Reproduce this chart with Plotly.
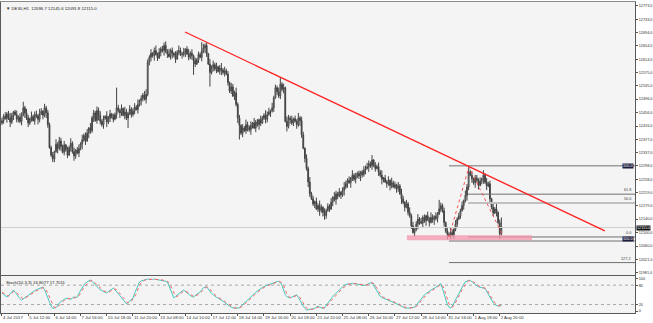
import plotly.graph_objects as go

# ---------------- data ----------------
title_text = "DE30,H1  12096.7 12145.6 12091.8 12115.0"
stoch_text = "Stoch(10,3,3) 16.8077 17.7011"

y_tick_labels = ["12773.0", "12733.0", "12694.0", "12654.0", "12614.0", "12575.0", "12535.0",
                 "12496.0", "12456.0", "12416.0", "12377.0", "12337.0", "12298.0", "12258.0",
                 "12219.0", "12179.0", "12140.0", "12100.0", "12060.0", "12021.0", "11981.0"]

x_tick_labels = ["4 Jul 2017", "5 Jul 12:00", "6 Jul 14:00", "7 Jul 16:00", "10 Jul 18:00",
                 "11 Jul 20:00", "13 Jul 08:00", "14 Jul 10:00", "17 Jul 12:00", "18 Jul 14:00",
                 "19 Jul 16:00", "20 Jul 18:00", "21 Jul 20:00", "25 Jul 08:00", "26 Jul 10:00",
                 "27 Jul 12:00", "28 Jul 14:00", "31 Jul 16:00", "1 Aug 18:00", "2 Aug 20:00"]
x_tick_bars = [0, 16, 32, 48, 64, 80, 96, 112, 128, 144, 160, 176, 192, 208, 224, 240, 256,
               272, 288, 304]

first_open = 12425
closes = (
    [12432, 12445, 12438, 12452, 12440, 12428, 12446, 12458, 12450, 12436, 12442, 12430, 12448, 12470,
     12455, 12440, 12425, 12438, 12444, 12432, 12450, 12446, 12436, 12452, 12460, 12448, 12470, 12455]
    + [12420, 12352, 12330, 12318, 12340, 12362, 12350, 12372, 12355, 12338, 12360, 12346, 12330, 12352,
       12365, 12340, 12328, 12345, 12336, 12350, 12362]
    + [12375, 12388, 12372, 12395, 12410, 12402]
    + [12440, 12455, 12432, 12462, 12448, 12430, 12420, 12438, 12445, 12428, 12440, 12452, 12444, 12436]
    + [12450, 12470, 12462, 12455, 12468, 12448, 12458, 12440, 12452, 12466, 12450, 12460, 12472, 12465,
       12480, 12492]
    + [12498, 12508, 12495, 12510]
    + [12605, 12620, 12632, 12625, 12640, 12628, 12618, 12635, 12645, 12640, 12655, 12638, 12630, 12622,
       12640, 12632, 12626, 12615, 12635, 12640, 12630, 12628, 12636, 12644, 12630, 12620, 12632, 12625,
       12610, 12600, 12612, 12628, 12620, 12638, 12648, 12655, 12630]
    + [12600, 12575, 12590, 12598, 12585, 12592, 12578, 12588, 12582, 12575, 12580, 12570]
    + [12545, 12520, 12532, 12505, 12515, 12480]
    + [12440, 12418, 12395, 12410, 12402, 12420, 12412, 12405, 12418, 12425]
    + [12410, 12428, 12420, 12435, 12425, 12440, 12448, 12436, 12450, 12458, 12462, 12470]
    + [12500, 12530, 12518, 12505, 12540, 12525, 12530]
    + [12430, 12415, 12440, 12435, 12425, 12438, 12430, 12420, 12440, 12432]
    + [12390, 12350, 12320, 12290]
    + [12250, 12215, 12200, 12185, 12192, 12170, 12180, 12165, 12175, 12160, 12150, 12165, 12178, 12170]
    + [12190, 12205, 12198, 12215, 12208, 12220, 12212, 12225, 12235]
    + [12245, 12255, 12248, 12262, 12270, 12258, 12265, 12275, 12268, 12280, 12272, 12285, 12290]
    + [12295, 12305, 12298, 12315, 12300, 12290, 12296, 12280]
    + [12270, 12258, 12262, 12250, 12245, 12255, 12240, 12248, 12235, 12242, 12230, 12238]
    + [12215, 12200, 12190, 12175, 12185, 12160, 12150]
    + [12120, 12100, 12110]
    + [12125, 12140, 12132, 12128, 12145, 12135, 12150, 12140, 12130, 12145, 12138, 12148, 12142, 12155,
       12170, 12180, 12165]
    + [12130, 12105, 12095, 12090, 12100, 12094]
    + [12110, 12125, 12140, 12150, 12165, 12180, 12195, 12210, 12235]
    + [12280, 12270, 12260]
    + [12248, 12262, 12255, 12240, 12252, 12260, 12270, 12250, 12238, 12245]
    + [12200, 12175, 12158]
    + [12170, 12160, 12130, 12096.7, 12115.0]
)

# wick lengths per bar, base-36 digits, 3 points per unit
upper_wicks = ("3242353124" "2436243152" "3425314232" "2315243241" "3252413425" "2341523243"
               "4231524132" "k324153242" "3425132453" "2413524233" "4252314253" "2413524132"
               "3294231524" "2413524231" "4325231425" "3241523142" "2534152324" "7241532413"
               "2524314252" "3142531423" "2415324135" "3241524231" "2434325132" "4251324152"
               "3142531425" "2413524231" "4253142932" "3142531423" "2415352413" "3241524231"
               "42513a")
lower_wicks = ("2314252413" "3241524231" "4253142531" "2331524132" "3142531425" "2415324135"
               "3241524231" "4253142a13" "2314253142" "3425131425" "2413524132" "4251324e31"
               "3142531e24" "2413524132" "31425e2413" "4253142531" "2431524132" "3241524231"
               "4253142531" "2413524431" "3142531425" "2415324135" "3241524231" "4253142531"
               "2431524132" "3142531425" "2413524132" "4251324231" "3142531425" "2413524132"
               "314252")

stoch_k = (
    [56, 52, 47, 43] + [48, 55, 60, 65] + [58, 50, 44, 38, 34] + [38, 42, 46, 50, 53, 56]
    + [60, 63, 66, 68, 70, 72, 74] + [66, 55, 42, 28, 16, 8] + [9, 12, 15, 25] + [30, 33, 36, 38, 40]
    + [38, 36, 40, 44, 42, 43] + [55, 65, 73, 80, 87] + [90, 94, 96] + [92, 86, 80, 74]
    + [70, 66, 62, 60, 58, 56] + [60, 64, 68, 71] + [66, 60, 55, 50] + [42, 35, 28, 22]
    + [26, 31, 36, 40] + [55, 68, 80, 90] + [93, 95, 97, 98, 99, 98, 97, 98, 99, 98, 99]
    + [97, 95, 96, 94, 92, 90] + [78, 64, 52, 40] + [45, 50, 55, 58, 62, 65] + [60, 56, 52, 48, 45, 43]
    + [48, 52, 56, 59] + [66, 72, 74, 75] + [68, 60, 54, 50, 45] + [42, 40, 37, 35] + [30, 26, 22, 18, 15]
    + [12, 10, 8, 9, 10, 10] + [15, 20, 26, 30, 35, 40] + [44, 48, 53, 58, 62, 66, 70]
    + [73, 76, 78, 80, 83, 85] + [87, 89, 90, 91, 92] + [88, 80, 65, 50] + [45, 42, 40] + [43, 46, 48, 50]
    + [42, 32, 22, 15, 8, 3] + [4, 5, 6, 7, 8] + [12, 15, 12, 9, 8, 10] + [18, 25, 32, 38, 45]
    + [50, 55, 60, 66, 70, 75, 80] + [82, 84, 83, 85, 86, 84, 85] + [83, 82, 80, 81, 79, 80]
    + [83, 85, 87, 88] + [80, 70, 60, 52, 45] + [42, 40, 38, 35, 32, 30] + [28, 26, 24, 22, 20]
    + [17, 14, 12, 10] + [9, 8, 9, 10, 11, 12] + [18, 25, 32, 38, 44, 50] + [54, 58, 62, 65, 68, 70]
    + [74, 78, 82, 85] + [70, 52, 35, 20, 12, 9] + [15, 25, 35, 45] + [56, 66, 75, 83, 90] + [93, 95, 95]
    + [90, 86, 82, 78, 75] + [73, 72, 71, 70] + [60, 50, 40, 30] + [25, 20, 17, 15, 16, 16.8077]
)
stoch_d = (
    [58, 55, 51, 47] + [46, 50, 54, 60] + [61, 56, 50, 44, 39] + [37, 39, 42, 46, 50, 53]
    + [56, 60, 63, 66, 68, 70, 72] + [71, 65, 54, 42, 29, 17] + [11, 10, 12, 17] + [23, 29, 33, 36, 38]
    + [39, 38, 38, 40, 42, 43] + [47, 54, 64, 73, 80] + [86, 90, 93] + [94, 91, 86, 80]
    + [75, 70, 66, 63, 60, 58] + [58, 60, 64, 68] + [68, 66, 60, 55] + [49, 42, 35, 28]
    + [25, 26, 31, 36] + [44, 54, 68, 80] + [88, 93, 95, 97, 98, 99, 98, 98, 98, 99, 99]
    + [98, 97, 96, 95, 94, 92] + [87, 77, 65, 52] + [46, 45, 50, 54, 58, 62] + [62, 60, 56, 52, 48, 45]
    + [45, 48, 52, 56] + [60, 66, 71, 74] + [72, 68, 61, 55, 50] + [46, 42, 40, 37] + [34, 30, 26, 22, 18]
    + [15, 12, 10, 9, 9, 10] + [12, 15, 20, 25, 30, 35] + [40, 44, 48, 53, 58, 62, 66]
    + [70, 73, 76, 78, 80, 83] + [85, 87, 89, 90, 91] + [90, 87, 78, 65] + [53, 46, 42] + [42, 43, 46, 48]
    + [47, 41, 32, 23, 15, 9] + [5, 4, 5, 6, 7] + [9, 12, 13, 12, 10, 9] + [12, 17, 25, 32, 38]
    + [44, 50, 55, 60, 65, 70, 75] + [79, 82, 83, 84, 85, 85, 85] + [84, 83, 82, 81, 80, 80]
    + [81, 83, 85, 87] + [85, 79, 70, 61, 52] + [46, 42, 40, 38, 35, 32] + [30, 28, 26, 24, 22]
    + [20, 17, 14, 12] + [10, 9, 9, 9, 10, 11] + [14, 18, 25, 32, 38, 44] + [49, 54, 58, 62, 65, 68]
    + [71, 74, 78, 82] + [79, 69, 52, 36, 22, 14] + [12, 16, 25, 35] + [45, 56, 66, 75, 83] + [89, 93, 94]
    + [93, 90, 86, 82, 78] + [75, 73, 72, 71] + [67, 60, 50, 40] + [32, 25, 21, 17, 16, 17.7011]
)

# drawn objects (bar index, price)
trend_x = [111.8, 368.2]
trend_y = [12695, 12105]
zigzag_x = [273, 285.2, 306]
zigzag_y = [12087, 12295, 12090]
fib_a_start = 273
fib_a_levels = [12298, 12075, 12011]
fib_b_start = 284.6
fib_b_levels = [12214, 12087]
fib_mid_level = 12188
level_labels = [("61.8", 12214), ("50.0", 12188), ("0.0", 12087), ("127.2", 12011)]
box_labels = [("100.0", 12298), ("100.0", 12080)]
zone_x = [247.3, 323.7]
zone_y = [12077, 12092]
last_price = 12115.0
stoch_levels = [80, 20]

# ---------------- build ----------------
n = len(closes)
bars = list(range(n))
opens = [first_open] + closes[:-1]
highs = [max(o, c) + int(upper_wicks[i], 36) * 3 for i, (o, c) in enumerate(zip(opens, closes))]
lows = [min(o, c) - int(lower_wicks[i], 36) * 3 for i, (o, c) in enumerate(zip(opens, closes))]

X_MIN, X_MAX = -0.6, 386.6
FONT = "Liberation Sans"
FS = 4.3
FSY = 3.8

fig = go.Figure()
fig.add_trace(go.Candlestick(
    x=bars, open=opens, high=highs, low=lows, close=closes,
    increasing=dict(line=dict(color="#444444", width=1), fillcolor="#ffffff"),
    decreasing=dict(line=dict(color="#444444", width=1), fillcolor="#2a2a2a"),
    whiskerwidth=0, xaxis="x", yaxis="y", showlegend=False, hoverinfo="skip"))

# current price line
fig.add_trace(go.Scatter(x=[X_MIN, X_MAX], y=[last_price, last_price], mode="lines",
                         line=dict(color="#cfcfcf", width=1), xaxis="x", yaxis="y",
                         showlegend=False, hoverinfo="skip"))
# fib lines
for lv in fib_a_levels:
    fig.add_trace(go.Scatter(x=[fib_a_start, X_MAX], y=[lv, lv], mode="lines",
                             line=dict(color="#707070", width=1), xaxis="x", yaxis="y",
                             showlegend=False, hoverinfo="skip"))
for lv in fib_b_levels:
    fig.add_trace(go.Scatter(x=[fib_b_start, X_MAX], y=[lv, lv], mode="lines",
                             line=dict(color="#707070", width=1), xaxis="x", yaxis="y",
                             showlegend=False, hoverinfo="skip"))
fig.add_trace(go.Scatter(x=[fib_b_start, X_MAX], y=[fib_mid_level, fib_mid_level], mode="lines",
                         line=dict(color="#c0c0c0", width=2), xaxis="x", yaxis="y",
                         showlegend=False, hoverinfo="skip"))
# pink zone
fig.add_trace(go.Scatter(x=[zone_x[0], zone_x[1], zone_x[1], zone_x[0], zone_x[0]],
                         y=[zone_y[0], zone_y[0], zone_y[1], zone_y[1], zone_y[0]],
                         mode="lines", fill="toself", fillcolor="rgba(244,150,170,0.75)",
                         line=dict(width=0), xaxis="x", yaxis="y", showlegend=False, hoverinfo="skip"))
# trendline
fig.add_trace(go.Scatter(x=trend_x, y=trend_y, mode="lines", line=dict(color="#ff2020", width=1.3),
                         xaxis="x", yaxis="y", showlegend=False, hoverinfo="skip"))
# zigzag
fig.add_trace(go.Scatter(x=zigzag_x, y=zigzag_y, mode="lines",
                         line=dict(color="#ff5050", width=1, dash="dot"),
                         xaxis="x", yaxis="y", showlegend=False, hoverinfo="skip"))

# stochastic
for lv in stoch_levels:
    fig.add_trace(go.Scatter(x=[X_MIN, X_MAX], y=[lv, lv], mode="lines",
                             line=dict(color="#a8a8a8", width=1, dash="dot"),
                             xaxis="x2", yaxis="y2", showlegend=False, hoverinfo="skip"))
fig.add_trace(go.Scatter(x=list(range(len(stoch_k))), y=stoch_k, mode="lines",
                         line=dict(color="#48c8c0", width=1), xaxis="x2", yaxis="y2",
                         showlegend=False, hoverinfo="skip"))
fig.add_trace(go.Scatter(x=list(range(len(stoch_d))), y=stoch_d, mode="lines",
                         line=dict(color="#ff6060", width=1, dash="dot"), xaxis="x2", yaxis="y2",
                         showlegend=False, hoverinfo="skip"))

tick_font = dict(family=FONT, size=FS, color="#303030")
ytick_font = dict(family=FONT, size=FSY, color="#303030")
annotations = [
    dict(text="▼ " + title_text, xref="paper", yref="paper", x=0.004, y=0.995, xanchor="left",
         yanchor="top", showarrow=False, font=dict(family=FONT, size=FS, color="#202020")),
    dict(text=stoch_text, xref="paper", yref="paper", x=0.004, y=0.112, xanchor="left",
         yanchor="top", showarrow=False, font=dict(family=FONT, size=FS, color="#202020")),
    dict(text="12115.0", xref="paper", yref="y", x=1.002, y=last_price, xanchor="left",
         yanchor="middle", showarrow=False, bgcolor="#111111", borderpad=0,
         font=dict(family=FONT, size=FSY, color="#ffffff")),
]
for txt, lv in level_labels:
    annotations.append(dict(text=txt, xref="paper", yref="y", x=0.997, y=lv, xanchor="right",
                            yanchor="bottom", showarrow=False,
                            font=dict(family=FONT, size=FSY, color="#404040")))
for txt, lv in box_labels:
    annotations.append(dict(text=txt, xref="paper", yref="y", x=0.998, y=lv, xanchor="right",
                            yanchor="middle", showarrow=False, bgcolor="#1c1c3c", borderpad=0,
                            font=dict(family=FONT, size=FSY, color="#ffffff")))

fig.update_layout(
    width=653, height=323,
    margin=dict(l=1, r=18, t=2, b=10),
    paper_bgcolor="#ffffff", plot_bgcolor="#f4f4f4",
    showlegend=False,
    xaxis=dict(domain=[0, 1], range=[X_MIN, X_MAX], anchor="y", showgrid=False, zeroline=False,
               showticklabels=False, ticks="", showline=True, linecolor="#8a8a8a", linewidth=1,
               mirror=True, rangeslider=dict(visible=False), automargin=False),
    yaxis=dict(domain=[0.1222, 1], range=[11974.2, 12784], side="right", showgrid=False,
               zeroline=False, tickmode="array", tickvals=[float(t) for t in y_tick_labels],
               ticktext=y_tick_labels, ticks="outside", ticklen=2, tickcolor="#555",
               tickfont=ytick_font, showline=True, linecolor="#5a5a5a", linewidth=1, mirror=True,
               automargin=False),
    xaxis2=dict(domain=[0, 1], range=[X_MIN, X_MAX], anchor="y2", matches="x", showgrid=False,
                zeroline=False, tickmode="array", tickvals=x_tick_bars, ticktext=x_tick_labels,
                ticks="outside", ticklen=2, tickcolor="#555", tickfont=tick_font, tickangle=0,
                ticklabelposition="outside right", showline=True, linecolor="#5a5a5a",
                linewidth=1, mirror=True, automargin=False),
    yaxis2=dict(domain=[0, 0.119], range=[-6.2, 108.4], side="right", showgrid=False,
                zeroline=False, tickmode="array", tickvals=[100, 80, 20, 0],
                ticktext=["100", "80", "20", "0"], ticks="outside", ticklen=2, tickcolor="#555",
                tickfont=ytick_font, showline=True, linecolor="#5a5a5a", linewidth=1, mirror=True,
                automargin=False),
    annotations=annotations,
)

fig.write_html("out.html")
